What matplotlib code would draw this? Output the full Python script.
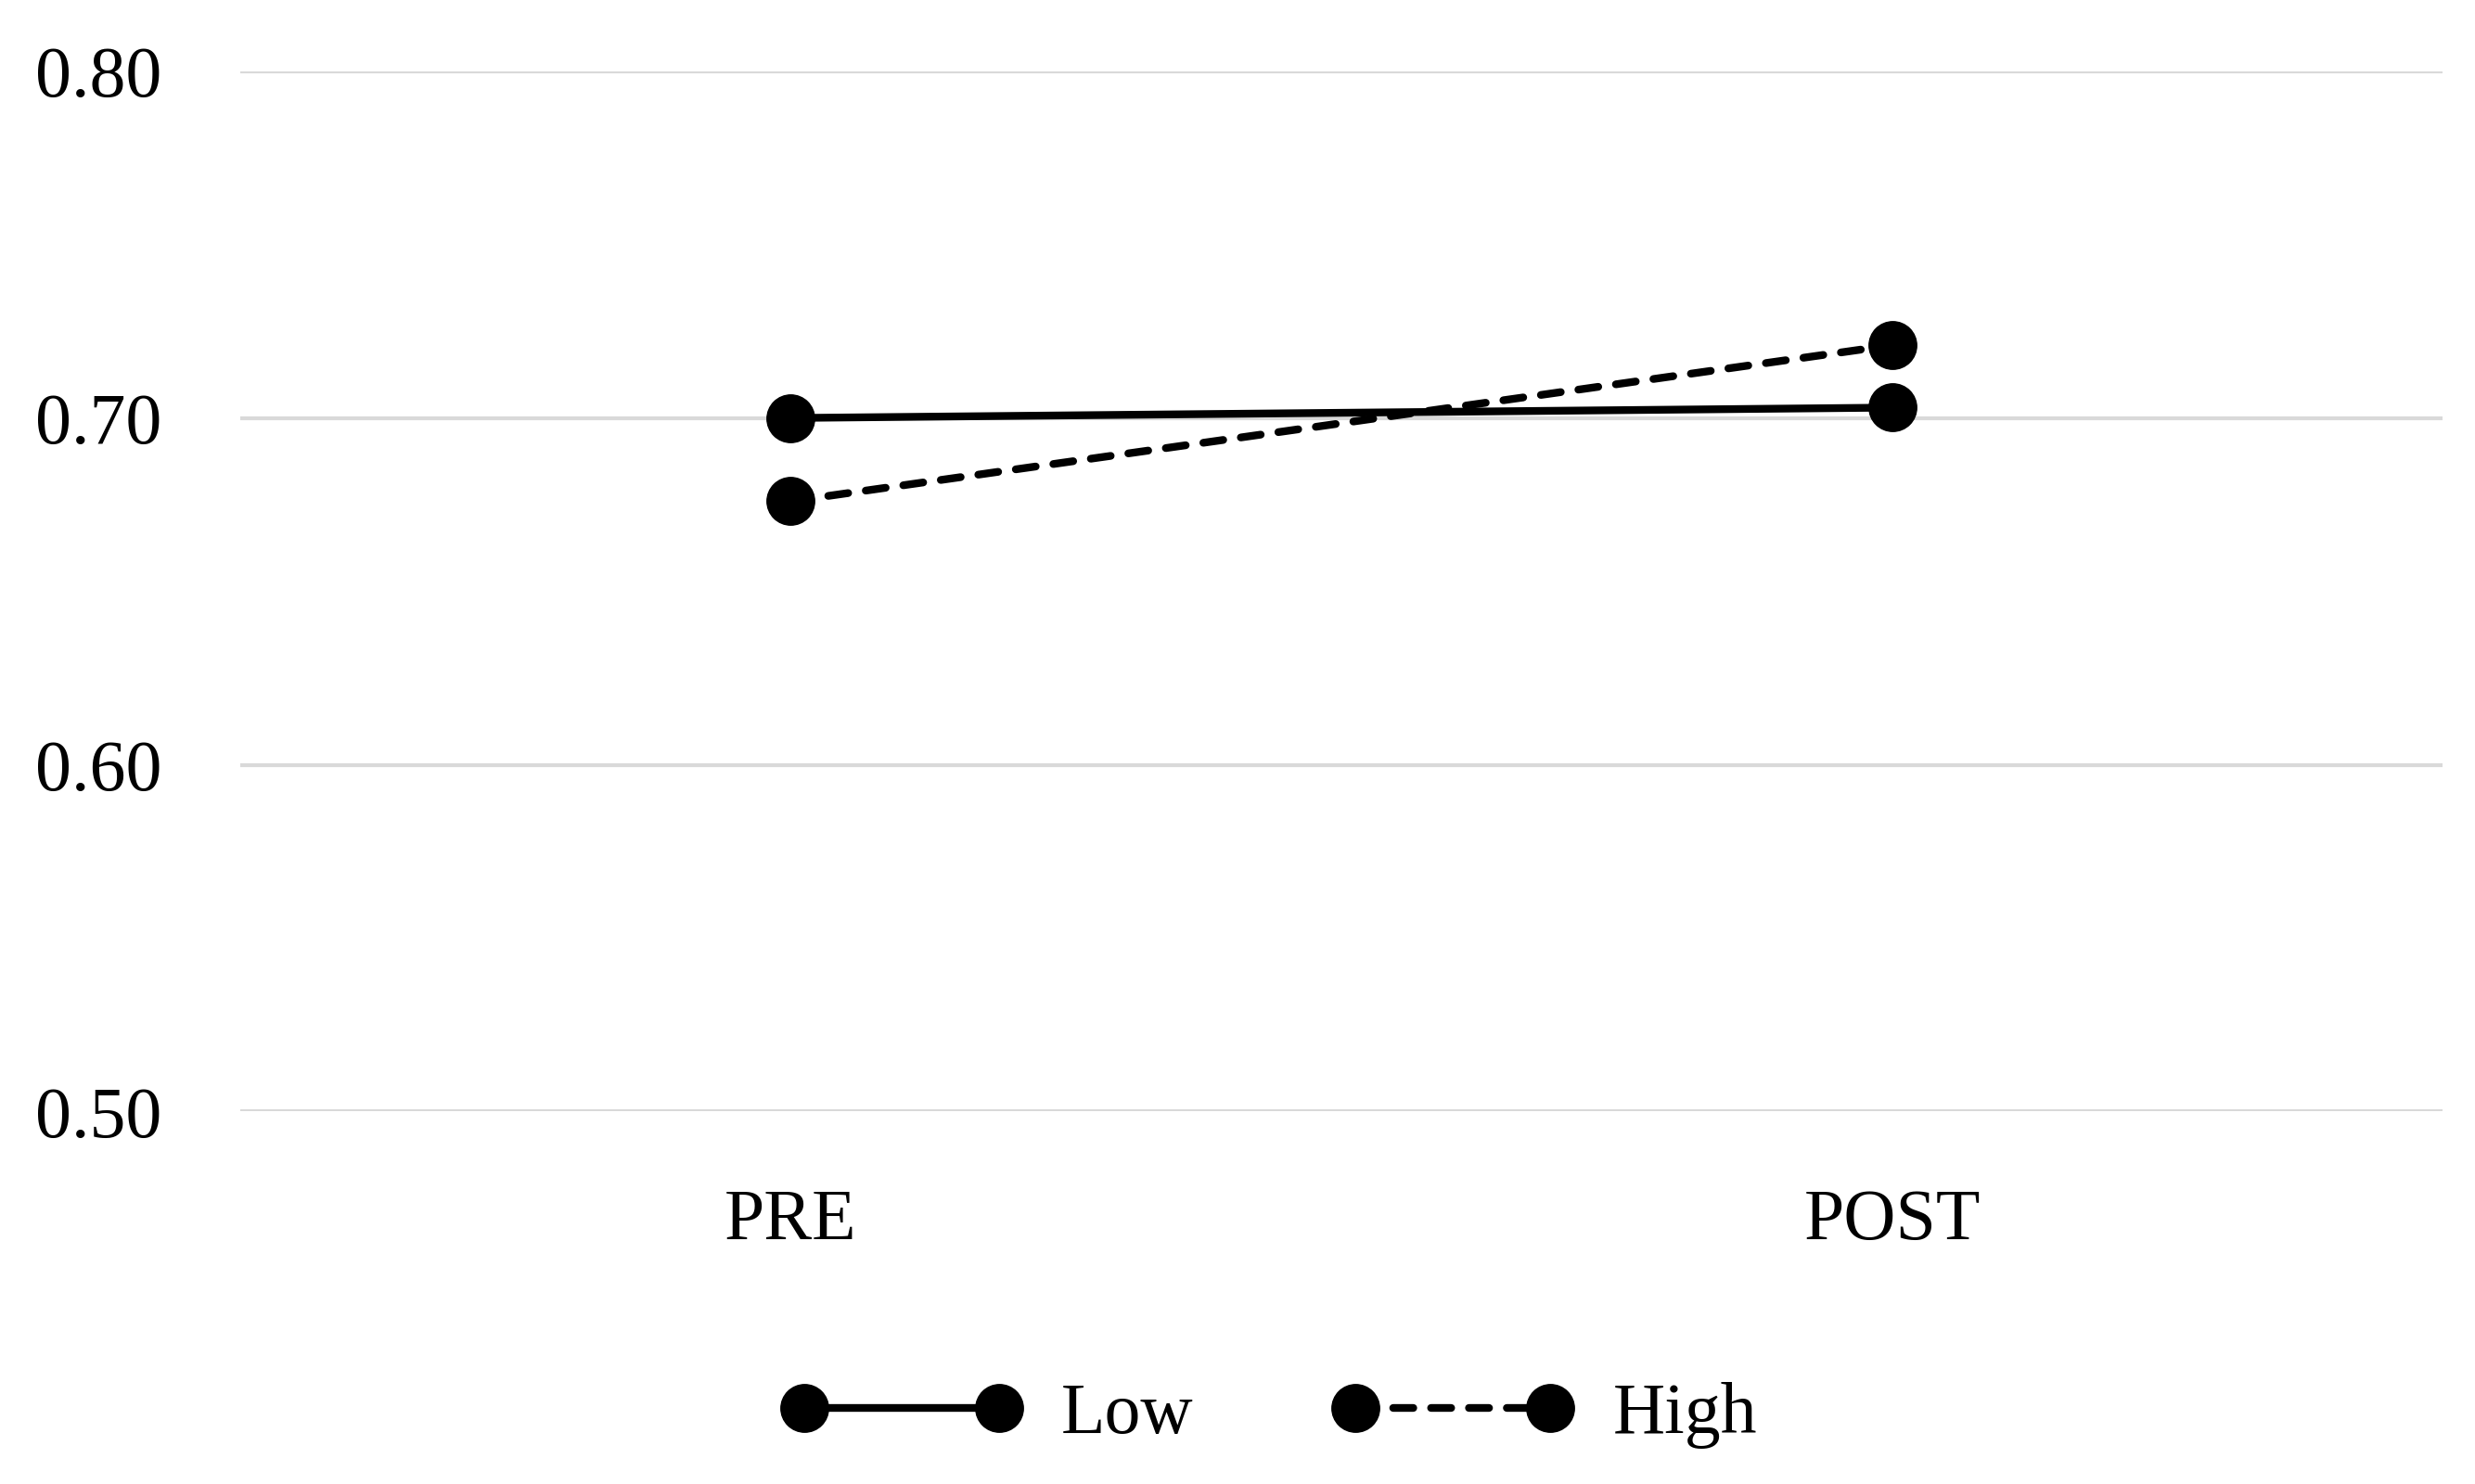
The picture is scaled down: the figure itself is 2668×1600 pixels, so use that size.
import matplotlib
matplotlib.use("Agg")
import matplotlib.pyplot as plt
import numpy as np

# values
phases = ["PRE", "POST"]
low = [0.700, 0.703]
high = [0.676, 0.721]
y_ticks = [0.50, 0.60, 0.70, 0.80]

plt.rcParams['font.family'] = ['Liberation Serif', 'DejaVu Serif']

fig = plt.figure(figsize=(26.68, 16), dpi=100)
ax = fig.add_axes([0.097, 0.251, 0.890, 0.701])

x = np.arange(len(phases))
ax.plot(x, low, color='black', lw=6, marker='o', ms=37, label='Low', zorder=3)
ax.plot(x, high, color='black', lw=6, ls=(0, (2.6, 2.3)), dash_capstyle='round',
        marker='o', ms=37, label='High', zorder=3)

ax.set_xlim(-0.5, 1.5)
ax.set_ylim(0.50, 0.80)
ax.set_yticks(y_ticks)
ax.set_yticklabels([f"{v:.2f}" for v in y_ticks])
ax.set_xticks(x)
ax.set_xticklabels(phases)
ax.tick_params(axis='y', length=0, pad=61, labelsize=56)
ax.tick_params(axis='x', length=0, pad=60, labelsize=56)

ax.yaxis.grid(True, color='#d9d9d9', lw=3)
ax.set_axisbelow(True)
for s in ax.spines.values():
    s.set_visible(False)

fig.legend(loc='center', bbox_to_anchor=(0.513, 0.046), ncol=2, frameon=False,
           fontsize=56, handlelength=3.3, handletextpad=0.56, columnspacing=1.95,
           numpoints=2)

fig.savefig("out.png", dpi=100)
